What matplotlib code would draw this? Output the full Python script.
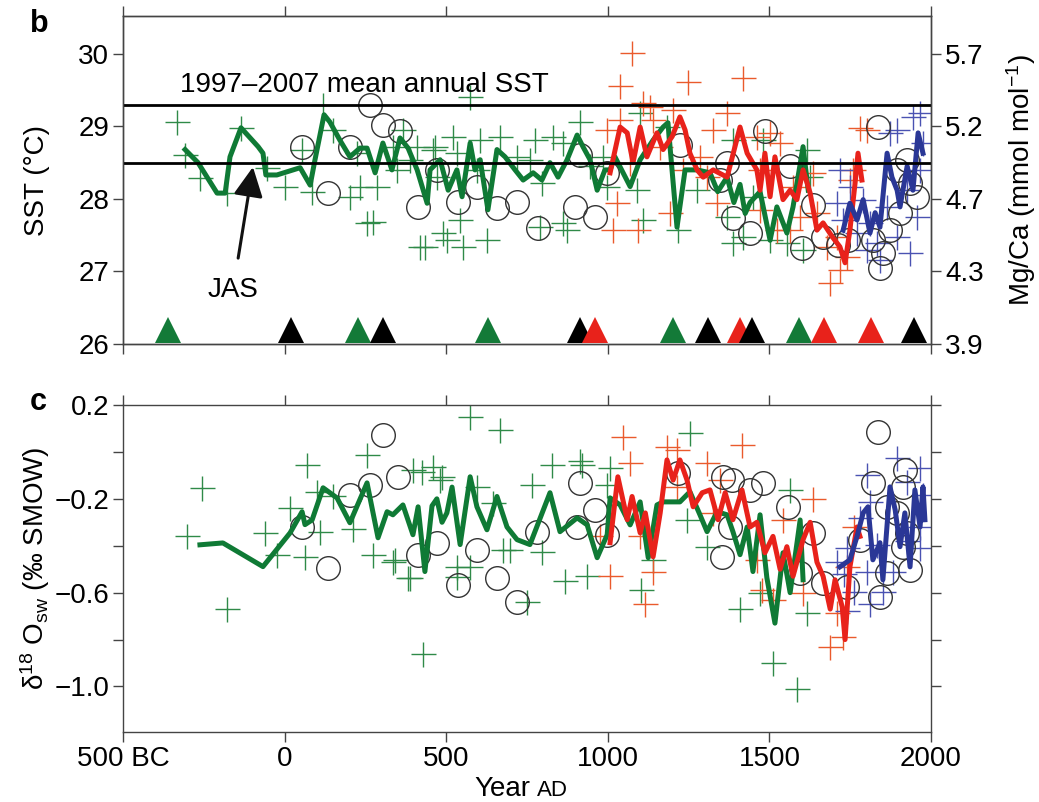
import matplotlib
matplotlib.use("Agg")
import matplotlib.pyplot as plt

plt.rcParams['font.family'] = ['Liberation Sans', 'DejaVu Sans']
plt.rcParams['mathtext.fontset'] = 'custom'
plt.rcParams['mathtext.rm'] = 'Liberation Sans'
plt.rcParams['mathtext.it'] = 'Liberation Sans'

# ---- colours
green = '#0f7a35'
green_x = '#2f8a48'
red = '#e8221b'
red_x = '#ea5a2c'
blue = '#2a3796'
blue_x = '#4a52b2'
circ = '#333333'

# ---- panel b: SST (smoothed records)
g_line_yr = [-308, -268, -209, -184, -169, -135, -82, -67, -58, -24, 48, 79, 94, 122, 140, 171, 202, 233,
             255, 280, 304, 332, 357, 382, 410, 441, 450, 481, 506, 533, 549, 574, 589, 605, 629, 657, 682,
             713, 738, 769, 796, 821, 846, 874, 905, 923, 945, 967, 991, 1007, 1022, 1069, 1100, 1140, 1171,
             1186, 1214, 1239, 1276, 1316, 1340, 1369, 1390, 1409, 1425, 1440, 1471, 1502, 1523, 1554, 1573,
             1604, 1620]
g_line_sst = [28.68, 28.50, 28.08, 28.08, 28.58, 28.98, 28.72, 28.63, 28.33, 28.33, 28.43, 28.19, 28.54,
              29.16, 29.06, 28.81, 28.58, 28.70, 28.70, 28.36, 28.77, 28.40, 28.84, 28.70, 28.40, 27.94,
              28.40, 28.54, 28.12, 28.40, 28.03, 28.77, 28.40, 28.54, 27.85, 28.68, 28.58, 28.40, 28.26,
              28.36, 28.26, 28.50, 28.30, 28.54, 28.88, 28.72, 28.54, 28.12, 28.40, 28.40, 28.58, 28.17,
              28.54, 28.81, 28.99, 29.05, 27.61, 28.40, 28.40, 28.36, 28.10, 28.30, 27.95, 28.20, 27.80,
              27.95, 28.10, 27.43, 27.89, 27.53, 27.89, 28.72, 28.12]

r_line_yr = [1007, 1038, 1060, 1078, 1100, 1121, 1152, 1171, 1199, 1223, 1239, 1254, 1276, 1295, 1326, 1369,
             1409, 1431, 1461, 1471, 1486, 1502, 1517, 1542, 1564, 1585, 1604, 1626, 1647, 1666, 1694, 1718,
             1734, 1749, 1765, 1774, 1786]
r_line_sst = [28.36, 28.99, 28.91, 28.50, 28.99, 28.58, 28.91, 28.68, 28.86, 29.13, 28.95, 28.63, 28.40,
              28.30, 28.40, 28.30, 28.99, 28.63, 28.40, 28.12, 28.63, 28.03, 28.58, 27.99, 28.12, 27.99,
              28.40, 28.08, 27.57, 27.67, 27.48, 27.34, 27.12, 27.57, 28.22, 28.63, 28.26]

b_line_yr = [1728, 1749, 1771, 1790, 1811, 1827, 1842, 1864, 1879, 1895, 1904, 1926, 1944, 1960, 1975]
b_line_sst = [27.57, 27.94, 27.71, 27.99, 27.53, 27.81, 27.61, 28.63, 28.30, 28.12, 27.89, 28.45, 28.12,
              28.91, 28.63]

# ---- panel b: individual measurements
g_pts_yr = [-333, -308, -262, -178, -135, -55, 1, 54, 85, 119, 150, 202, 255, 224, 274, 286, 335, 366, 410,
            419, 459, 490, 521, 543, 552, 574, 605, 626, 666, 434, 465, 502, 759, 775, 796, 790, 830, 861,
            861, 874, 914, 945, 472, 347, 388, 533, 595, 719, 233, 1100, 1109, 1183, 1217, 1276, 1387, 1387,
            1418, 1369, 998, 985, 1091, 1449, 1502, 1480, 1554, 1604, 1616, 1626]
g_pts_sst = [29.06, 28.61, 28.29, 28.08, 28.98, 28.43, 28.17, 28.68, 28.10, 29.30, 28.95, 28.03, 27.67,
             28.63, 27.68, 28.17, 28.72, 28.95, 28.72, 27.34, 28.68, 27.53, 28.86, 27.71, 27.34, 29.41,
             28.81, 27.43, 28.86, 27.34, 28.72, 27.43, 28.54, 28.81, 28.22, 27.61, 28.86, 28.77, 27.67,
             27.57, 29.06, 28.45, 28.30, 28.40, 28.54, 28.63, 28.40, 28.58, 28.17, 29.19, 27.71, 28.99,
             27.57, 28.12, 28.81, 27.39, 27.48, 27.75, 28.17, 28.58, 28.12, 28.03, 27.43, 28.81, 27.39,
             27.30, 28.68, 28.30]

r_pts_yr = [1075, 1038, 1248, 1418, 1109, 1131, 1202, 1369, 998, 1038, 1140, 1326, 1285, 1016, 1094, 1193,
            1029, 1461, 1471, 1069, 1162, 1233, 1307, 1338, 1780, 1802, 1502, 1533, 1471, 1573, 1635, 1647,
            1595, 1688, 1718, 1740, 1749, 1759, 1678, 1709, 1523, 1564]
r_pts_sst = [30.01, 29.55, 29.61, 29.67, 29.32, 29.27, 29.23, 29.19, 28.95, 29.09, 29.09, 28.95, 28.58,
             27.57, 27.57, 27.81, 27.94, 28.86, 27.85, 28.50, 28.72, 28.40, 28.30, 27.94, 28.98, 28.95,
             28.91, 28.77, 28.40, 28.17, 28.36, 27.81, 27.75, 26.84, 27.02, 27.20, 28.26, 28.40, 27.34,
             27.48, 27.57, 27.57]

b_pts_yr = [1966, 1944, 1895, 1873, 1975, 1718, 1749, 1790, 1709, 1728, 1811, 1771, 1833, 1802, 1935, 1895,
            1926, 1966, 1956, 1864, 1842]
b_pts_sst = [29.19, 29.13, 28.95, 28.91, 28.77, 28.40, 28.17, 27.99, 27.94, 27.71, 27.67, 27.53, 27.39,
             27.30, 27.26, 27.48, 28.12, 28.40, 27.75, 27.89, 27.16]

c_pts_yr = [54, 134, 202, 264, 304, 357, 413, 472, 537, 595, 657, 719, 784, 898, 914, 960, 998, 1223, 1369,
            1347, 1387, 1440, 1486, 1564, 1601, 1635, 1666, 1712, 1743, 1836, 1842, 1851, 1873, 1904, 1895,
            1926, 1935, 1956, 1820]
c_pts_sst = [28.72, 28.08, 28.72, 29.30, 29.02, 28.93, 27.89, 28.40, 27.96, 28.17, 27.87, 27.96, 27.60,
             27.89, 28.61, 27.75, 28.36, 28.74, 28.50, 28.26, 27.74, 27.53, 28.93, 28.45, 27.32, 27.92,
             27.48, 27.37, 27.43, 28.99, 27.05, 27.26, 27.57, 27.81, 28.40, 28.54, 28.22, 28.03, 27.43]

# triangles (age control points) along the bottom of panel b
tri_yr = [-361, 20, 227, 304, 629, 914, 960, 1202, 1310, 1409, 1446, 1591, 1669, 1814, 1947]
tri_col = ['g', 'k', 'g', 'k', 'g', 'k', 'r', 'g', 'k', 'r', 'k', 'g', 'r', 'r', 'k']

ref_sst = [29.3, 28.5]
sst_ticks = [26, 27, 28, 29, 30]
mgca_labels = ['3.9', '4.3', '4.7', '5.2', '5.7']

# ---- panel c: d18O seawater
g_line2_yr = [-262, -191, -67, 17, 54, 63, 85, 119, 162, 202, 255, 289, 317, 335, 366, 397, 413, 434, 456,
              471, 487, 502, 518, 543, 574, 595, 626, 657, 688, 719, 759, 821, 852, 905, 936, 967, 998,
              1007, 1038, 1069, 1100, 1125, 1152, 1171, 1223, 1254, 1285, 1307, 1338, 1369, 1387, 1409,
              1431, 1449, 1471, 1492, 1517, 1542, 1564, 1595, 1604]
g_line2_d = [-0.396, -0.388, -0.489, -0.345, -0.255, -0.310, -0.290, -0.153, -0.196, -0.302, -0.132,
             -0.366, -0.255, -0.268, -0.226, -0.353, -0.234, -0.510, -0.230, -0.200, -0.300, -0.260,
             -0.150, -0.395, -0.106, -0.234, -0.332, -0.190, -0.320, -0.374, -0.395, -0.174, -0.340,
             -0.281, -0.311, -0.451, -0.353, -0.196, -0.226, -0.311, -0.213, -0.451, -0.226, -0.213,
             -0.213, -0.170, -0.268, -0.340, -0.255, -0.268, -0.340, -0.438, -0.320, -0.510, -0.268,
             -0.536, -0.730, -0.430, -0.600, -0.290, -0.545]

r_line2_yr = [1007, 1031, 1060, 1075, 1100, 1116, 1140, 1162, 1183, 1202, 1223, 1245, 1264, 1292, 1316, 1341,
              1363, 1387, 1415, 1440, 1461, 1486, 1511, 1533, 1554, 1573, 1604, 1626, 1647, 1666, 1688,
              1703, 1725, 1734, 1749, 1771, 1780]
r_line2_d = [-0.387, -0.106, -0.289, -0.190, -0.345, -0.260, -0.447, -0.260, -0.034, -0.120, -0.034,
             -0.120, -0.234, -0.174, -0.162, -0.289, -0.174, -0.289, -0.162, -0.320, -0.300, -0.430,
             -0.360, -0.500, -0.404, -0.530, -0.374, -0.300, -0.470, -0.530, -0.670, -0.545, -0.660,
             -0.800, -0.490, -0.320, -0.360]

b_line2_yr = [1718, 1749, 1771, 1790, 1805, 1820, 1842, 1851, 1873, 1889, 1904, 1919, 1935, 1950, 1966,
              1975, 1981]
b_line2_d = [-0.490, -0.460, -0.360, -0.260, -0.234, -0.460, -0.387, -0.545, -0.149, -0.247, -0.404,
             -0.260, -0.490, -0.162, -0.320, -0.149, -0.289]

g_pts2_yr = [-256, -302, -178, 69, 17, -61, 63, -24, 255, 428, 574, 666, 388, 274, 335, 533, 533, 110, 100,
             150, 212, 397, 459, 481, 595, 644, 697, 425, 487, 341, 382, 574, 676, 750, 796, 827, 765, 920,
             867, 936, 998, 914, 1007, 1254, 1103, 1409, 1511, 1585, 1616, 1564, 1307, 1245, 1471, 1140]
g_pts2_d = [-0.153, -0.360, -0.670, -0.055, -0.240, -0.345, -0.447, -0.438, -0.013, -0.860, 0.149, 0.094,
            -0.536, -0.438, -0.468, -0.532, -0.490, -0.340, -0.170, -0.190, -0.330, -0.077, -0.064,
            -0.120, -0.149, -0.217, -0.417, -0.085, -0.106, -0.460, -0.536, -0.490, -0.417, -0.640,
            -0.426, -0.055, -0.140, -0.055, -0.550, -0.530, -0.140, -0.040, -0.068, 0.080, -0.590,
            -0.670, -0.900, -1.010, -0.685, -0.162, -0.404, -0.290, -0.600, -0.460]

r_pts2_yr = [1047, 1415, 1183, 1214, 1007, 1116, 1140, 1688, 1728, 1709, 1635, 1762, 1347, 1307, 1326, 1477,
             1511, 1542, 1604, 1069, 1100, 976, 1214, 1461, 1740]
r_pts2_d = [0.064, 0.030, 0.021, 0.009, -0.530, -0.650, -0.510, -0.830, -0.790, -0.685, -0.200, -0.320,
            -0.120, -0.047, -0.260, -0.590, -0.630, -0.290, -0.600, -0.047, -0.360, -0.360, -0.149,
            -0.460, -0.490]

b_pts2_yr = [1895, 1966, 1802, 1926, 1811, 1975, 1780, 1966, 1740, 1833, 1926, 1966, 1709, 1802, 1851, 1811,
             1740, 1882, 1762, 1731]
b_pts2_d = [-0.025, -0.068, -0.098, -0.128, -0.213, -0.183, -0.281, -0.320, -0.408, -0.396, -0.380,
            -0.410, -0.468, -0.510, -0.596, -0.650, -0.680, -0.510, -0.596, -0.520]

c_pts2_yr = [54, 134, 202, 264, 304, 351, 413, 472, 537, 595, 657, 719, 781, 914, 960, 905, 998, 1217, 1357,
             1384, 1440, 1480, 1378, 1354, 1558, 1635, 1595, 1666, 1740, 1780, 1836, 1820, 1919, 1913,
             1864, 1895, 1926, 1935, 1864, 1842, 1913]
c_pts2_d = [-0.319, -0.494, -0.183, -0.140, 0.072, -0.106, -0.438, -0.387, -0.566, -0.417, -0.536, -0.638,
            -0.340, -0.132, -0.247, -0.319, -0.353, -0.090, -0.106, -0.120, -0.162, -0.132, -0.319,
            -0.447, -0.234, -0.345, -0.515, -0.557, -0.574, -0.374, 0.085, -0.132, -0.077, -0.149,
            -0.234, -0.260, -0.345, -0.502, -0.515, -0.617, -0.404]

d18_ticks = [0.2, 0.0, -0.2, -0.4, -0.6, -0.8, -1.0]
d18_labels = ['0.2', '', '\u22120.2', '', '\u22120.6', '', '\u22121.0']
x_ticks = [-500, 0, 500, 1000, 1500, 2000]
x_labels = ['500 BC', '0', '500', '1000', '1500', '2000']

spine_col = '#444444'
fs = 20


def style_axes(ax):
    for s in ax.spines.values():
        s.set_color(spine_col)
        s.set_linewidth(1.0)
    ax.tick_params(direction='out', length=7, width=1.0, color=spine_col, labelsize=fs, pad=3)


fig = plt.figure(figsize=(10.39, 8.02), dpi=100)
ax1 = fig.add_axes([0.1184, 0.571, 0.7777, 0.409])
ax2 = fig.add_axes([0.1184, 0.087, 0.7777, 0.408])

# ---------------- panel b
ax1.plot(g_pts_yr, g_pts_sst, '+', color=green_x, ms=18, mew=1.0, zorder=2)
ax1.plot(r_pts_yr, r_pts_sst, '+', color=red_x, ms=18, mew=1.0, zorder=2)
ax1.plot(b_pts_yr, b_pts_sst, '+', color=blue_x, ms=18, mew=1.0, zorder=2)
ax1.plot(c_pts_yr, c_pts_sst, 'o', mfc='none', mec=circ, ms=17, mew=1.0, zorder=3)
ax1.plot(g_line_yr, g_line_sst, color=green, lw=3.6, zorder=4)
ax1.plot(r_line_yr, r_line_sst, color=red, lw=3.6, zorder=5)
ax1.plot(b_line_yr, b_line_sst, color=blue, lw=3.6, zorder=6)
for v in ref_sst:
    ax1.axhline(v, color='black', lw=2, zorder=7)

tri_map = {'g': '#137a38', 'k': 'black', 'r': '#e8221b'}
for yr, c in zip(tri_yr, tri_col):
    ax1.plot(yr, 26.2, '^', color=tri_map[c], ms=19, mew=0, zorder=8, clip_on=False)

ax1.text(-324, 29.48, '1997\u20132007 mean annual SST', fontsize=fs, va='baseline', ha='left')
ax1.annotate('JAS', xy=(-98, 28.44), xytext=(-160, 26.74), fontsize=fs, ha='center', va='center',
             arrowprops=dict(arrowstyle='-|>,head_length=0.9,head_width=0.45', color='#111111', lw=2.2,
                             shrinkA=12, shrinkB=0))

ax1.set_xlim(-500, 2000)
ax1.set_ylim(26, 30.52)
ax1.set_yticks(sst_ticks)
ax1.set_xticks(x_ticks)
ax1.tick_params(axis='x', labelbottom=False, top=True)
ax1.set_ylabel('SST (\u00b0C)', fontsize=fs)
ax1.yaxis.set_label_coords(-0.09, 0.5)
style_axes(ax1)

ax1r = ax1.twinx()
ax1r.set_ylim(26, 30.52)
ax1r.set_yticks(sst_ticks)
ax1r.set_yticklabels(mgca_labels)
ax1r.set_ylabel('Mg/Ca (mmol mol$^{\u22121}$)', fontsize=fs)
ax1r.yaxis.set_label_coords(1.09, 0.5)
style_axes(ax1r)

# ---------------- panel c
ax2.plot(g_pts2_yr, g_pts2_d, '+', color=green_x, ms=18, mew=1.0, zorder=2)
ax2.plot(r_pts2_yr, r_pts2_d, '+', color=red_x, ms=18, mew=1.0, zorder=2)
ax2.plot(b_pts2_yr, b_pts2_d, '+', color=blue_x, ms=18, mew=1.0, zorder=2)
ax2.plot(c_pts2_yr, c_pts2_d, 'o', mfc='none', mec=circ, ms=17, mew=1.0, zorder=3)
ax2.plot(g_line2_yr, g_line2_d, color=green, lw=3.6, zorder=4)
ax2.plot(r_line2_yr, r_line2_d, color=red, lw=3.6, zorder=5)
ax2.plot(b_line2_yr, b_line2_d, color=blue, lw=3.6, zorder=6)

ax2.set_xlim(-500, 2000)
ax2.set_ylim(-1.195, 0.2)
ax2.set_yticks(d18_ticks)
ax2.set_yticklabels(d18_labels)
ax2.set_xticks(x_ticks)
ax2.set_xticklabels(x_labels)
ax2.tick_params(axis='x', top=True)
ax2.tick_params(axis='y', right=True)
ax2.set_ylabel('\u03b4$^{18}$ O$_{\\rm sw}$ (\u2030 SMOW)', fontsize=fs)
ax2.yaxis.set_label_coords(-0.088, 0.5)
style_axes(ax2)

ax2.text(0.469, -0.195, 'Year', transform=ax2.transAxes, fontsize=fs, ha='center', va='baseline')
ax2.text(0.532, -0.195, 'AD', transform=ax2.transAxes, fontsize=16, ha='center', va='baseline')

fig.text(30 / 1039, 1 - 24 / 802, 'b', fontsize=22, fontweight='bold', ha='left', va='center')
fig.text(30 / 1039, 1 - 402 / 802, 'c', fontsize=22, fontweight='bold', ha='left', va='center')

fig.savefig('out.png', dpi=100)
